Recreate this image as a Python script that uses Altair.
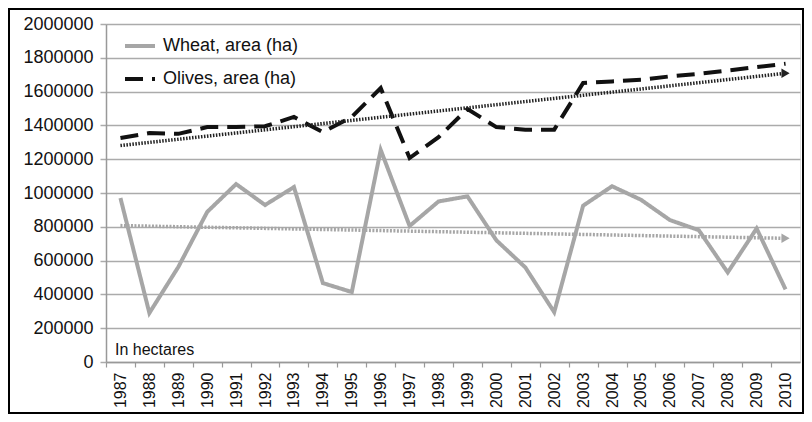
import altair as alt
import pandas as pd

years = list(range(1987, 2011))
wheat = [970000, 290000, 562000, 888000, 1053000, 929000, 1035000, 467000, 414000, 1255000,
         805000, 950000, 980000, 720000, 560000, 295000, 925000, 1040000, 960000, 840000,
         780000, 530000, 790000, 430000]
olives = [1325000, 1355000, 1350000, 1390000, 1390000, 1395000, 1450000, 1360000, 1450000, 1621000,
          1207000, 1330000, 1497000, 1390000, 1375000, 1375000, 1651000, 1660000, 1670000, 1690000,
          1705000, 1725000, 1745000, 1765000]
series_names = ["Wheat, area (ha)", "Olives, area (ha)"]
y_ticks = list(range(0, 2000001, 200000))

rows = []
for name, vals in zip(series_names, [wheat, olives]):
    for yr, v in zip(years, vals):
        rows.append({"year": yr, "value": v, "series": name})
df = pd.DataFrame(rows)

W, H = 694, 338
step = W / len(years)
FONT = "Liberation Sans"
GRID = "#ababab"

x_axis = alt.Axis(values=years, format="d", labelAngle=-90, labelFontSize=16,
                  labelColor="#111", labelFont=FONT, tickSize=5, tickColor="#999",
                  tickWidth=1.2, tickOffset=-step / 2, labelOffset=step / 2,
                  labelPadding=5, domainColor="#999", domainWidth=1.5, grid=False,
                  title=None, labelBound=False, labelOverlap=False, labelFlush=False)
y_axis = alt.Axis(values=y_ticks, format="d", labelFontSize=18, labelColor="#111",
                  labelFont=FONT, tickSize=6, tickColor=GRID, tickWidth=1.5,
                  labelPadding=7, domainColor="#999", domainWidth=1.5,
                  gridColor=GRID, gridWidth=1.5, title=None, labelOverlap=False)
x_scale = alt.Scale(domain=[years[0] - 0.5, years[-1] + 0.5], nice=False, zero=False)
y_scale = alt.Scale(domain=[0, 2000000], nice=False)


def xe():
    return alt.X("year:Q", scale=x_scale, axis=x_axis)


def ye():
    return alt.Y("value:Q", scale=y_scale, axis=y_axis)


base = alt.Chart(df)

legend = alt.Legend(title=None, orient="none", legendX=17, legendY=5,
                    symbolType="stroke", symbolSize=900, symbolStrokeWidth=4,
                    labelFontSize=18, labelFont=FONT, labelColor="#111",
                    labelOffset=6, rowPadding=7, padding=0)

lines = base.mark_line(strokeWidth=4, strokeCap="butt", strokeJoin="miter").encode(
    x=xe(), y=ye(),
    color=alt.Color("series:N", scale=alt.Scale(domain=series_names, range=["#a6a6a6", "#111111"]),
                    legend=legend),
    strokeDash=alt.StrokeDash("series:N",
                              scale=alt.Scale(domain=series_names, range=[[1, 0], [18, 9]]),
                              legend=legend),
    order=alt.Order("year:Q"),
)


def trend(name, color, width, dash):
    t = base.transform_filter(alt.datum.series == name).transform_regression("year", "value")
    ln = t.mark_line(color=color, strokeWidth=width, strokeDash=dash, strokeCap="butt").encode(
        x=xe(), y=ye())
    arrow = t.transform_filter(alt.datum.year >= years[-1] - 0.01).mark_point(
        shape="triangle-right", filled=True, color=color, size=90, opacity=1).encode(
        x=xe(), y=ye())
    return ln, arrow


w_line, w_arrow = trend(series_names[0], "#a6a6a6", 3.5, [2, 1.5])
o_line, o_arrow = trend(series_names[1], "#222222", 3.5, [1.5, 1.5])

note = alt.Chart(pd.DataFrame({"t": ["In hectares"]})).mark_text(
    align="left", baseline="alphabetic", fontSize=16, font=FONT, color="#111").encode(
    x=alt.value(9), y=alt.value(331), text="t:N")

frame = alt.Chart(pd.DataFrame({"t": [0]})).mark_rect(
    fillOpacity=0, stroke="#000", strokeWidth=2).encode(
    x=alt.value(-97), x2=alt.value(W + 3), y=alt.value(-15), y2=alt.value(H + 51))

chart = alt.layer(w_line, w_arrow, lines, o_line, o_arrow, note, frame).properties(
    width=W, height=H,
    autosize=alt.AutoSizeParams(type="none"),
    padding={"left": 98, "top": 16, "right": 4, "bottom": 52},
).configure_view(stroke=None).configure(font=FONT)

chart.save("out.html", embed_options={"renderer": "svg", "actions": False})
